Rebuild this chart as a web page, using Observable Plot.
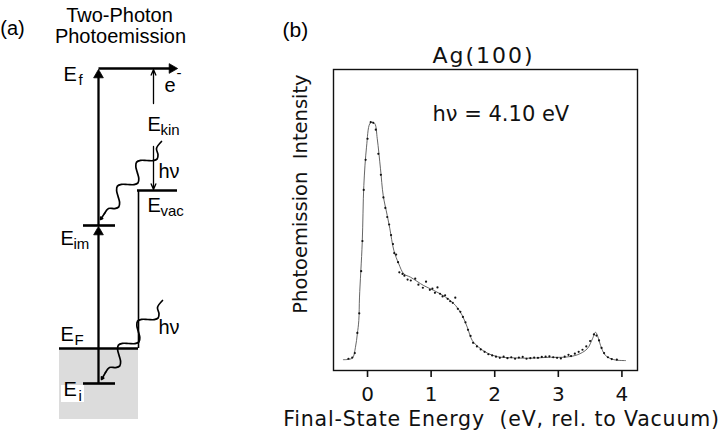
<!DOCTYPE html>
<html>
<head>
<meta charset="utf-8">
<script src="https://cdn.jsdelivr.net/npm/d3@7"></script>
<script src="https://cdn.jsdelivr.net/npm/@observablehq/plot@0.6"></script>
<style>
  body { margin: 0; background: #fff; }
  #wrap { display: flex; width: 719px; height: 442px; background: #fff; }
  #wrap svg { display: block; overflow: visible; }
</style>
</head>
<body>
<div id="wrap"></div>
<script>
// ---------- Panel (b): spectrum data ----------
const tickValues = [0, 1, 2, 3, 4];
const fitEnergy = [-0.38, -0.24, -0.19, -0.16, -0.137, -0.126, -0.083, -0.058, -0.016, 0.036, 0.074, 0.115, 0.153, 0.204, 0.247, 0.31, 0.351, 0.414, 0.492, 0.571, 0.676, 0.885, 1.042, 1.226, 1.384, 1.489, 1.568, 1.646, 1.75, 1.882, 2.039, 2.3, 2.563, 2.877, 3.086, 3.297, 3.454, 3.538, 3.585, 3.632, 3.664, 3.742, 3.873, 4.057];
const fitIntensity = [3.6, 4.1, 7.7, 12.2, 16.6, 24.4, 42.6, 61.5, 74.2, 82.0, 82.5, 82.0, 77.0, 67.0, 58.1, 51.5, 47.1, 39.9, 35.4, 32.1, 31.0, 28.2, 26.6, 24.4, 21.6, 18.3, 14.4, 10.0, 7.7, 5.8, 4.6, 4.2, 4.1, 4.4, 4.4, 5.2, 7.2, 10.6, 12.7, 10.6, 8.3, 5.0, 3.6, 3.3];
const dotEnergy = [-0.30, -0.24, -0.20, -0.16, -0.13, -0.10, -0.08, -0.06, -0.03, 0.00, 0.05, 0.09, 0.13, 0.17, 0.21, 0.25, 0.28, 0.31, 0.34, 0.37, 0.40, 0.42, 0.45, 0.48, 0.50, 0.55, 0.58, 0.63, 0.68, 0.75, 0.80, 0.87, 0.92, 0.98, 1.02, 1.06, 1.10, 1.14, 1.18, 1.22, 1.26, 1.30, 1.34, 1.38, 1.42, 1.46, 1.50, 1.54, 1.58, 1.62, 1.66, 1.72, 1.78, 1.84, 1.90, 1.96, 2.02, 2.08, 2.14, 2.20, 2.26, 2.32, 2.38, 2.44, 2.50, 2.56, 2.62, 2.68, 2.74, 2.80, 2.86, 2.92, 2.98, 3.04, 3.10, 3.16, 3.20, 3.26, 3.32, 3.38, 3.44, 3.50, 3.56, 3.60, 3.64, 3.68, 3.72, 3.78, 3.84, 3.92];
const dotIntensity = [3.9, 4.3, 5.8, 12.5, 19.0, 33.0, 43.0, 60.0, 70.0, 77.0, 82.5, 82.3, 80.0, 72.0, 65.0, 57.5, 54.0, 51.0, 48.5, 45.0, 42.0, 39.0, 38.5, 36.0, 32.6, 32.1, 31.5, 30.2, 29.9, 30.5, 28.5, 27.5, 29.5, 26.8, 27.2, 25.8, 27.6, 25.5, 24.6, 25.0, 23.8, 23.0, 22.5, 24.2, 20.5, 19.5, 17.8, 16.0, 13.5, 11.5, 9.2, 8.0, 7.0, 6.2, 5.4, 5.0, 4.6, 4.2, 4.6, 4.1, 4.4, 3.9, 4.3, 4.5, 3.9, 4.1, 4.3, 4.2, 4.5, 4.6, 4.7, 4.4, 4.2, 4.0, 4.6, 5.2, 4.8, 5.6, 6.2, 6.9, 8.0, 9.8, 12.0, 11.6, 10.0, 7.5, 5.8, 4.4, 3.8, 3.6];

// ---------- Panel (a): schematic (diagram coordinates) ----------
const bandRect = [{x1: 59, x2: 138, y1: 348, y2: 419}];
const labelBox = [{x1: 61, x2: 84, y1: 385, y2: 402}];
const levels = [
  {x1: 137, x2: 177, y: 190},  // E_vac
  {x1: 83, x2: 115, y: 225},   // E_im
  {x1: 59, x2: 138, y: 348},   // E_F
  {x1: 83, x2: 115, y: 383}    // E_i
];
const vacuumWall = [{x: 138, y1: 190, y2: 348}];
const boldShafts = [
  {x1: 98, y1: 68, x2: 172, y2: 68},
  {x1: 98, y1: 383, x2: 98, y2: 231},
  {x1: 98, y1: 225, x2: 98, y2: 74}
];
const boldHeads = [
  {x: 171.5, y: 68, angle: 90},
  {x: 98, y: 231.5, angle: 0},
  {x: 98, y: 74.5, angle: 0}
];
const thinArrows = [
  {x1: 153, y1: 103, x2: 153, y2: 69},
  {x1: 153, y1: 146, x2: 153, y2: 189}
];
const photon1X = [161, 156, 157.5, 156.7, 152.7, 146.4, 140.1, 136.1, 135.3, 136.8, 138.3, 137.5, 133.5, 127.2, 120.9, 116.9, 116.1, 117.6, 119.1, 118.3, 114.3, 108, 104];
const photon1Y = [141, 148, 154.1, 158.4, 160.1, 160, 159.9, 161.6, 165.9, 172, 178.1, 182.4, 184.1, 184, 183.9, 185.6, 189.9, 196, 202.1, 206.4, 208.1, 208, 213];
const photon2X = [162, 157, 158.5, 157.7, 153.7, 147.4, 141.1, 137.1, 136.3, 137.8, 139.3, 138.5, 134.5, 128.2, 121.9, 117.9, 117.1, 118.6, 120.1, 119.3, 115.3, 109, 105];
const photon2Y = [300, 307, 313.1, 317.4, 319.1, 319, 318.9, 320.6, 324.9, 331, 337.1, 341.4, 343.1, 343, 342.9, 344.6, 348.9, 355, 361.1, 365.4, 367.1, 367, 372];
const photonHeads = [
  {x1: 104, y1: 213, x2: 100, y2: 219},
  {x1: 105, y1: 372, x2: 101, y2: 379}
];
const mainLabels = [
  {t: "E", x: 63, y: 80}, {t: "e", x: 164, y: 91}, {t: "E", x: 147, y: 130},
  {t: "hν", x: 158, y: 177}, {t: "E", x: 147, y: 211}, {t: "E", x: 60, y: 244},
  {t: "E", x: 60, y: 340}, {t: "hν", x: 158, y: 333}, {t: "E", x: 63, y: 395}
];
const subLabels = [
  {t: "f", x: 78, y: 84}, {t: "-", x: 176, y: 77}, {t: "kin", x: 160, y: 134},
  {t: "vac", x: 160, y: 215}, {t: "im", x: 73, y: 248}, {t: "F", x: 74, y: 344},
  {t: "i", x: 78, y: 400}
];
const headerLabels = [
  {t: "(a)", x: 12, y: 34, a: "start"},
  {t: "Two-Photon", x: 119, y: 21, a: "middle"},
  {t: "Photoemission", x: 120, y: 42, a: "middle"}
];

// ---------- Panel (a) ----------
const panelA = Plot.plot({
  width: 270, height: 442, margin: 0,
  x: {domain: [0, 270], range: [0, 270], axis: null},
  y: {domain: [0, 442], range: [0, 442], axis: null},
  style: {fontFamily: "Liberation Sans, Arial, sans-serif", background: "#fff", color: "#000"},
  marks: [
    Plot.rect(bandRect, {x1: "x1", x2: "x2", y1: "y1", y2: "y2", fill: "#dcdcdc"}),
    Plot.rect(labelBox, {x1: "x1", x2: "x2", y1: "y1", y2: "y2", fill: "#fff"}),
    Plot.ruleX(vacuumWall, {x: "x", y1: "y1", y2: "y2", stroke: "#000", strokeWidth: 1.6}),
    Plot.ruleY(levels, {y: "y", x1: "x1", x2: "x2", stroke: "#000", strokeWidth: 2.6}),
    Plot.link(boldShafts, {x1: "x1", y1: "y1", x2: "x2", y2: "y2", stroke: "#000", strokeWidth: 2.3}),
    Plot.dot(boldHeads, {x: "x", y: "y", rotate: "angle", symbol: "triangle", r: 3.6, fill: "#000", stroke: "#000", strokeWidth: 0.8}),
    Plot.arrow(thinArrows, {x1: "x1", y1: "y1", x2: "x2", y2: "y2", stroke: "#000", strokeWidth: 1.3, headLength: 7, headAngle: 45}),
    Plot.line(photon1X, {x: photon1X, y: photon1Y, curve: "catmull-rom", stroke: "#000", strokeWidth: 1.7}),
    Plot.line(photon2X, {x: photon2X, y: photon2Y, curve: "catmull-rom", stroke: "#000", strokeWidth: 1.7}),
    Plot.arrow(photonHeads, {x1: "x1", y1: "y1", x2: "x2", y2: "y2", stroke: "#000", strokeWidth: 1.6, headLength: 7, headAngle: 60}),
    Plot.text(mainLabels, {x: "x", y: "y", text: "t", textAnchor: "start", lineAnchor: "bottom", fontSize: 20, fill: "#000"}),
    Plot.text(subLabels, {x: "x", y: "y", text: "t", textAnchor: "start", lineAnchor: "bottom", fontSize: 15, fill: "#000"}),
    Plot.text(headerLabels, {x: "x", y: "y", text: "t", textAnchor: "a", lineAnchor: "bottom", fontSize: 20, fill: "#000"})
  ]
});

// ---------- Panel (b) ----------
const panelB = Plot.plot({
  width: 449, height: 442,
  marginLeft: 63, marginRight: 82, marginTop: 69, marginBottom: 72,
  x: {domain: [-0.535, 4.245], axis: null},
  y: {domain: [0, 100], axis: null},
  style: {fontFamily: "DejaVu Sans, sans-serif", background: "#fff", color: "#111"},
  marks: [
    Plot.frame({stroke: "#111", strokeWidth: 1.4}),
    Plot.axisX({ticks: tickValues, tickFormat: d => String(d), tickSize: 7, tickPadding: 9, fontSize: 20, strokeWidth: 1.6, label: null, fill: "#111"}),
    Plot.line(fitIntensity, {x: fitEnergy, y: fitIntensity, curve: "catmull-rom", stroke: "#555", strokeWidth: 0.9}),
    Plot.dot(dotIntensity, {x: dotEnergy, y: dotIntensity, r: 1.1, fill: "#111", stroke: null}),
    Plot.text(["(b)"], {frameAnchor: "top-left", dx: -51, dy: -33, textAnchor: "start", lineAnchor: "bottom", fontSize: 21, fontFamily: "Liberation Sans, Arial, sans-serif", fill: "#000"}),
    Plot.text(["Ag(100)"], {frameAnchor: "top", dx: -2, dy: -7, lineAnchor: "bottom", fontSize: 22, fill: "#111"}),
    Plot.text(["hν = 4.10 eV"], {frameAnchor: "top-left", dx: 99, dy: 51, textAnchor: "start", lineAnchor: "bottom", fontSize: 21, fill: "#111"}),
    Plot.text(["Photoemission  Intensity"], {frameAnchor: "left", dx: -33, dy: -26, rotate: -90, textAnchor: "middle", lineAnchor: "middle", fontSize: 19.5, fill: "#111"}),
    Plot.text(["Final-State Energy  (eV, rel. to Vacuum)"], {frameAnchor: "bottom", dx: 16, dy: 55, lineAnchor: "bottom", fontSize: 20.5, fill: "#111"})
  ]
});

// widen the spaced lettering of two captions, as in the reference
d3.select(panelB).selectAll("text")
  .filter(function () { return this.textContent === "Ag(100)"; })
  .attr("letter-spacing", 2);
d3.select(panelB).selectAll("text")
  .filter(function () { return this.textContent.startsWith("Final-State"); })
  .attr("letter-spacing", 0.8);

document.getElementById("wrap").append(panelA, panelB);
</script>
</body>
</html>
